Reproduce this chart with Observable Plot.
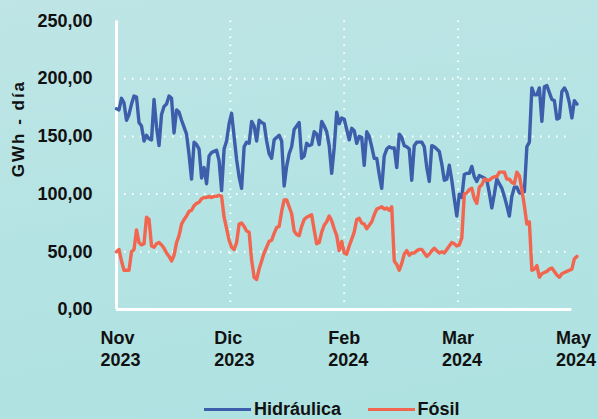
<!DOCTYPE html>
<html><head><meta charset="utf-8">
<script src="https://cdn.jsdelivr.net/npm/d3@7"></script>
<script src="https://cdn.jsdelivr.net/npm/@observablehq/plot@0.6"></script>
<style>
html,body{margin:0;padding:0;}
#wrap{position:relative;width:598px;height:419px;overflow:hidden;background:linear-gradient(170deg,#bfe5e6 0%,#b4e3e3 50%,#ade2e1 100%);font-family:"Liberation Sans",Arial,sans-serif;}
#chart svg{display:block;}
#legend{position:absolute;left:0;top:392px;width:598px;height:27px;}
.item{position:absolute;top:7px;display:flex;align-items:center;font-weight:bold;font-size:18px;line-height:20px;color:#111;white-space:nowrap;}
.sw{display:inline-block;width:47px;height:3px;margin-right:3px;}
</style></head><body>
<div id="wrap"><div id="chart"></div><div id="legend"></div></div>
<script>
const startDate = "2023-11-01";
const hidraulica = [
174,173,183,179,164,169,178,185,184,162,
159,146,151,148,147,182,158,142,169,176,
178,185,183,153,173,171,164,158,152,134,
113,145,143,139,114,123,109,133,136,137,
138,129,103,139,146,161,170,150,130,115,
105,141,145,144,163,159,146,164,162,161,
146,135,131,147,149,151,146,107,124,135,
141,156,159,162,131,133,144,142,143,154,
152,143,163,159,154,142,118,140,171,161,
166,165,156,147,157,155,144,150,149,125,
154,150,141,131,131,117,105,133,139,141,
140,140,123,152,149,142,141,139,112,142,
145,145,145,141,123,111,142,141,139,137,
126,112,113,125,112,96,81,100,97,117,
118,118,124,115,111,116,115,114,112,101,
88,100,113,109,105,98,90,81,98,106,
106,101,101,102,141,145,192,186,186,192,
163,193,194,188,182,181,165,166,189,192,
188,179,166,181,178
];
const fosil = [
50,52,42,34,34,34,50,52,69,58,
56,57,80,78,55,54,57,58,56,53,
49,46,42,47,58,64,74,78,81,85,
86,90,92,93,96,97,97,98,97,98,
98,99,98,80,70,60,54,52,58,74,
75,72,68,67,43,28,26,35,42,49,
54,59,60,66,71,72,85,95,95,89,
83,68,65,64,72,78,80,81,82,69,
57,58,67,73,76,81,77,70,64,51,
59,49,48,55,61,67,78,79,75,74,
70,73,76,82,87,88,89,87,88,86,
89,42,39,34,40,48,51,47,49,49,
51,52,52,49,46,48,51,53,51,49,
50,49,52,55,58,57,55,56,62,100,
101,104,105,96,92,106,108,113,112,112,
114,115,115,119,119,119,113,113,110,109,
119,116,104,90,74,76,34,35,38,28,
31,32,33,35,36,33,30,28,31,32,
33,34,35,44,46
];
const seriesNames = ["Hidráulica", "Fósil"];
const seriesColors = ["#3d5eab", "#f2654f"];
const yTicks = [0, 50, 100, 150, 200, 250];
const xTickDays = [0, 45.5, 91, 136.5, 182];
const xTickLabels = ["Nov\n2023", "Dic\n2023", "Feb\n2024", "Mar\n2024", "May\n2024"];
const yLabel = "GWh - día";

const t0 = Date.parse(startDate + "T00:00:00Z");
const dayToDate = d => new Date(t0 + d * 864e5);
const hidroRows = hidraulica.map((v, i) => ({date: dayToDate(i), value: v}));
const fosilRows = fosil.map((v, i) => ({date: dayToDate(i), value: v}));
const tickDates = xTickDays.map(dayToDate);
const fmtY = d => d.toFixed(2).replace(".", ",");
const fmtX = d => xTickLabels[tickDates.findIndex(t => +t === +d)];
const grid = {stroke: "white", strokeOpacity: 1, strokeWidth: 2, strokeDasharray: "1.5,6.5"};

const plot = Plot.plot({
  width: 598, height: 392,
  marginLeft: 116, marginRight: 26.6, marginTop: 20.5, marginBottom: 83,
  style: {background: "transparent", fontFamily: "'Liberation Sans', Arial, sans-serif", color: "#111", overflow: "visible"},
  x: {type: "utc", domain: [tickDates[0], tickDates[tickDates.length - 1]]},
  y: {domain: [0, 250]},
  marks: [
    Plot.gridY(yTicks.slice(1, -1), grid),
    Plot.gridX(tickDates.slice(1, -1), grid),
    Plot.ruleX([tickDates[0]], {stroke: "white", strokeWidth: 3}),
    Plot.ruleY([0], {stroke: "white", strokeWidth: 3}),
    Plot.axisY(yTicks, {tickSize: 0, tickPadding: 24, fontSize: 18, fontWeight: "bold", tickFormat: fmtY, label: null}),
    Plot.axisX(tickDates, {tickSize: 0, tickPadding: 20, fontSize: 18, fontWeight: "bold", textAnchor: "start", dx: -16, lineHeight: 1.17, tickFormat: fmtX, label: null}),
    Plot.lineY(hidroRows, {x: "date", y: "value", stroke: seriesColors[0], strokeWidth: 3.4}),
    Plot.lineY(fosilRows, {x: "date", y: "value", stroke: seriesColors[1], strokeWidth: 3.4}),
    Plot.text([yLabel], {frameAnchor: "left", rotate: -90, dx: -98, dy: 12, fontSize: 17, fontWeight: "bold"})
  ]
});
d3.select(plot).selectAll("text").filter(function() { return this.textContent === yLabel; }).style("letter-spacing", "2px");
document.getElementById("chart").appendChild(plot);

const legend = document.getElementById("legend");
const legendLeft = [204, 367.5];
seriesNames.forEach((name, i) => {
  const item = document.createElement("div");
  item.className = "item";
  item.style.left = legendLeft[i] + "px";
  const sw = document.createElement("span");
  sw.className = "sw";
  sw.style.background = seriesColors[i];
  const tx = document.createElement("span");
  tx.textContent = name;
  item.appendChild(sw); item.appendChild(tx);
  legend.appendChild(item);
});
</script>
</body></html>
